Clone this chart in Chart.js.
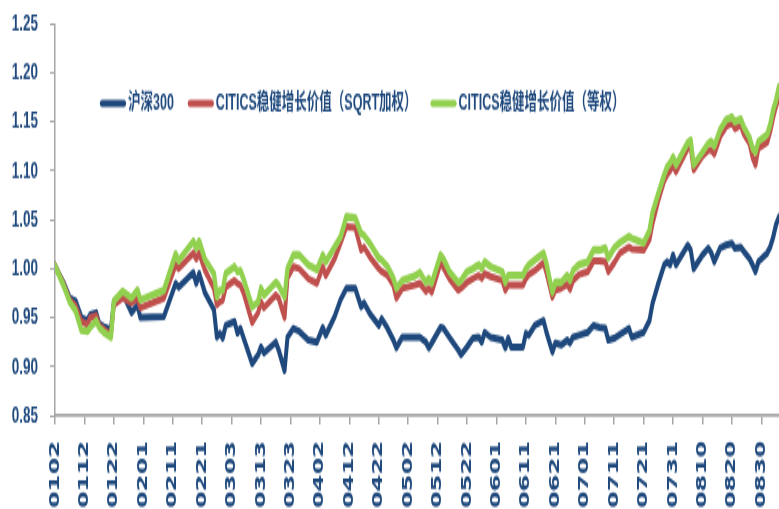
<!DOCTYPE html>
<html>
<head>
<meta charset="utf-8">
<script src="https://cdn.jsdelivr.net/npm/chart.js@4.4.1/dist/chart.umd.min.js"></script>
<style>
  html, body { margin: 0; padding: 0; background: #fff; }
</style>
</head>
<body>
<canvas id="chart" width="779" height="283" style="display:block;width:779px;height:509px"></canvas>
<script>
// days since 0102
const days = [0,3,5,7,9,11,12,14,15,17,19,20,23,26,28,29,37,41,42,47,48,49,51,54,55,56,57,58,61,62,63,64,67,69,70,71,75,76,78,79,81,83,86,89,91,92,95,97,99,102,104,105,107,110,111,113,115,116,118,122,124,126,127,128,131,132,134,137,138,140,142,144,145,146,148,152,153,154,155,159,160,161,163,166,167,169,170,172,174,175,176,178,181,183,185,187,188,190,192,195,196,200,202,203,205,207,208,209,210,211,215,216,217,220,222,223,224,226,228,230,231,233,234,236,237,238,239,242,243,244,245,246];

const hs300 = [1.003,.985,.970,.967,.950,.947,.953,.955,.944,.940,.938,.966,.975,.955,.963,.950,.951,.985,.981,.996,.985,.995,.975,.958,.930,.934,.929,.942,.946,.934,.939,.930,.903,.912,.920,.914,.925,.917,.896,.930,.939,.936,.927,.925,.940,.932,.951,.968,.980,.980,.961,.965,.954,.942,.949,.939,.927,.919,.930,.930,.930,.925,.919,.924,.940,.939,.930,.917,.912,.920,.929,.930,.925,.935,.930,.927,.919,.929,.920,.920,.934,.932,.942,.947,.935,.915,.924,.922,.927,.924,.930,.932,.935,.942,.940,.939,.927,.929,.933,.939,.930,.935,.947,.964,.985,1.004,1.007,1.004,1.014,1.004,1.024,1.019,1.000,1.014,1.021,1.016,1.007,1.021,1.024,1.026,1.021,1.022,1.018,1.010,1.004,.997,1.007,1.016,1.022,1.032,1.045,1.053];

const sqrtW = [1.003,.984,.968,.962,.946,.943,.950,.952,.942,.937,.933,.963,.970,.965,.970,.960,.970,1.004,1.000,1.016,1.010,1.016,.998,.980,.963,.966,.968,.981,.988,.985,.983,.976,.945,.955,.966,.960,.973,.970,.950,.991,1.002,1.000,.990,.985,1.002,.993,1.010,1.026,1.043,1.042,1.019,1.022,1.012,1.000,.997,.993,.983,.970,.980,.983,.985,.977,.980,.976,1.006,1.001,.990,.978,.980,.986,.990,.993,.990,.995,.992,.988,.978,.983,.983,.983,.990,.994,.998,1.006,.996,.971,.978,.980,.984,.979,.988,.994,.997,1.008,1.008,1.007,.997,1.006,1.016,1.022,1.020,1.019,1.030,1.046,1.070,1.090,1.096,1.100,1.106,1.099,1.123,1.124,1.101,1.115,1.121,1.121,1.117,1.135,1.145,1.149,1.143,1.147,1.138,1.128,1.114,1.106,1.123,1.129,1.140,1.154,1.166,1.176];

const equalW = [1.003,.982,.966,.957,.937,.936,.940,.947,.940,.934,.930,.967,.977,.970,.978,.968,.978,1.015,1.008,1.028,1.021,1.028,1.009,.995,.971,.978,.978,.995,1.002,.997,.998,.990,.961,.966,.980,.973,.986,.983,.971,1.000,1.014,1.014,1.004,.999,1.014,1.007,1.022,1.032,1.053,1.052,1.036,1.034,1.026,1.011,1.009,1.002,.990,.980,.988,.992,.996,.986,.990,.985,1.014,1.010,.997,.986,.988,.997,1.000,1.004,1.000,1.007,1.002,.997,.986,.993,.993,.993,1.000,1.004,1.009,1.016,1.005,.976,.986,.986,.993,.988,.998,1.004,1.007,1.019,1.019,1.021,1.011,1.021,1.027,1.033,1.031,1.026,1.039,1.057,1.077,1.096,1.104,1.108,1.114,1.106,1.129,1.131,1.106,1.119,1.128,1.130,1.125,1.142,1.152,1.155,1.150,1.153,1.145,1.134,1.123,1.119,1.130,1.137,1.147,1.162,1.172,1.186];

const seriesNames = ["沪深300", "CITICS稳健增长价值（SQRT加权）", "CITICS稳健增长价值（等权）"];
const seriesColors = ["#1F497D", "#C0504D", "#92D050"];

const xTickDays = [0,10,20,30,40,50,60,70,80,90,100,110,120,130,140,150,160,170,180,190,200,210,220,230,240];
const xTickLabels = ["0102","0112","0122","0201","0211","0221","0303","0313","0323","0402","0412","0422","0502","0512","0522","0601","0611","0621","0701","0711","0721","0731","0810","0820","0830"];
const yTicks = [0.85,0.90,0.95,1.00,1.05,1.10,1.15,1.20,1.25];

const textColor = "#1F497D";
const axisGray = "#A6A6A6";

function pts(vals) {
  return days.map((d, i) => ({ x: d, y: vals[i] }));
}

// legend sits inside the plot, drawn by hand
const innerLegend = {
  id: "innerLegend",
  afterDraw(chart) {
    const ctx = chart.ctx;
    ctx.save();
    ctx.font = 'bold 12.5px "Liberation Sans", "Noto Sans CJK SC", sans-serif';
    ctx.textBaseline = "middle";
    let x = 100;
    const y = 57.5;
    chart.data.datasets.forEach(ds => {
      ctx.strokeStyle = ds.borderColor;
      ctx.lineWidth = 4.2;
      ctx.lineCap = "round";
      ctx.beginPath();
      ctx.moveTo(x + 2, y);
      ctx.lineTo(x + 24, y);
      ctx.stroke();
      ctx.fillStyle = textColor;
      ctx.fillText(ds.label, x + 28, y);
      x += 28 + ctx.measureText(ds.label).width + 14;
    });
    ctx.restore();
  }
};

const ctx = document.getElementById("chart").getContext("2d");
new Chart(ctx, {
  type: "line",
  data: {
    datasets: [
      { label: seriesNames[0], data: pts(hs300), borderColor: seriesColors[0], borderWidth: 4, order: 3 },
      { label: seriesNames[1], data: pts(sqrtW), borderColor: seriesColors[1], borderWidth: 4, order: 2 },
      { label: seriesNames[2], data: pts(equalW), borderColor: seriesColors[2], borderWidth: 4.3, order: 1 }
    ]
  },
  options: {
    responsive: false,
    devicePixelRatio: 1,
    animation: false,
    elements: {
      point: { radius: 0 },
      line: { tension: 0, borderJoinStyle: "round", borderCapStyle: "round" }
    },
    layout: { padding: { top: 13.3, right: 0, bottom: 0, left: 0 } },
    plugins: {
      legend: { display: false },
      tooltip: { enabled: false }
    },
    scales: {
      x: {
        type: "linear",
        min: 0,
        max: 246,
        afterBuildTicks: s => { s.ticks = xTickDays.map(v => ({ value: v })); },
        afterFit: s => { s.height = 52; s.paddingLeft = 0; s.paddingRight = 0; },
        ticks: {
          autoSkip: false,
          minRotation: 90,
          maxRotation: 90,
          padding: 9,
          color: textColor,
          font: { family: '"DejaVu Sans"', size: 13.5, weight: "bold" },
          callback: v => xTickLabels[xTickDays.indexOf(v)]
        },
        grid: { drawOnChartArea: false, drawTicks: true, tickLength: 5, color: axisGray, lineWidth: 1.5 },
        border: { color: axisGray, width: 1.7 }
      },
      y: {
        min: 0.85,
        max: 1.25,
        afterBuildTicks: s => { s.ticks = yTicks.map(v => ({ value: v })); },
        afterFit: s => { s.width = 55; s.paddingTop = 0; s.paddingBottom = 0; },
        ticks: {
          padding: 12,
          color: textColor,
          font: { family: '"Liberation Sans"', size: 13.5, weight: "bold" },
          callback: v => v.toFixed(2)
        },
        grid: { drawOnChartArea: false, drawTicks: true, tickLength: 5, color: axisGray, lineWidth: 1 },
        border: { color: axisGray, width: 1.5 }
      }
    }
  },
  plugins: [innerLegend]
});
</script>
</body>
</html>
